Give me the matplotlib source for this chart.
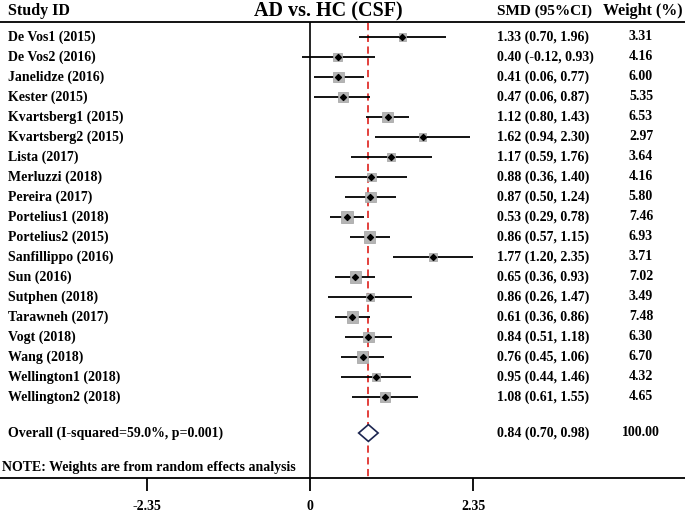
import matplotlib
matplotlib.use("Agg")
import matplotlib.pyplot as plt
from matplotlib.patches import Polygon
import matplotlib.transforms as mtransforms

plt.rcParams['font.family'] = ['Liberation Serif', 'DejaVu Serif']
plt.rcParams['font.weight'] = 'bold'

studies = ["De Vos1 (2015)", "De Vos2 (2016)", "Janelidze (2016)", "Kester (2015)",
           "Kvartsberg1 (2015)", "Kvartsberg2 (2015)", "Lista (2017)", "Merluzzi (2018)",
           "Pereira (2017)", "Portelius1 (2018)", "Portelius2 (2015)", "Sanfillippo (2016)",
           "Sun (2016)", "Sutphen (2018)", "Tarawneh (2017)", "Vogt (2018)", "Wang (2018)",
           "Wellington1 (2018)", "Wellington2 (2018)"]
smd = [1.33, 0.40, 0.41, 0.47, 1.12, 1.62, 1.17, 0.88, 0.87, 0.53, 0.86, 1.77, 0.65, 0.86,
       0.61, 0.84, 0.76, 0.95, 1.08]
ci_low = [0.70, -0.12, 0.06, 0.06, 0.80, 0.94, 0.59, 0.36, 0.50, 0.29, 0.57, 1.20, 0.36, 0.26,
          0.36, 0.51, 0.45, 0.44, 0.61]
ci_high = [1.96, 0.93, 0.77, 0.87, 1.43, 2.30, 1.76, 1.40, 1.24, 0.78, 1.15, 2.35, 0.93, 1.47,
           0.86, 1.18, 1.06, 1.46, 1.55]
weights = [3.31, 4.16, 6.00, 5.35, 6.53, 2.97, 3.64, 4.16, 5.80, 7.46, 6.93, 3.71, 7.02, 3.49,
           7.48, 6.30, 6.70, 4.32, 4.65]
overall_label = "Overall (I-squared=59.0%, p=0.001)"
overall = (0.84, 0.70, 0.98, 100.00)
note = "NOTE: Weights are from random effects analysis"
xticks = [-2.35, 0, 2.35]
xtick_labels = ["-2.35", "0", "2.35"]

W, H = 685, 512
fig = plt.figure(figsize=(W / 100, H / 100), dpi=100)
ax = fig.add_axes([0, (H - 478) / H, 1, (478 - 22) / H])

px_per_unit = 69.5
zero_px = 310
ax.set_xlim(-zero_px / px_per_unit, (W - zero_px) / px_per_unit)
ax.set_ylim(22.05, -0.75)

n = len(studies)
rows = list(range(n))
y_overall = 19.8
y_note = 21.5

for sp in ['left', 'right']:
    ax.spines[sp].set_visible(False)
ax.spines['top'].set_linewidth(1.3)
ax.spines['bottom'].set_linewidth(1.3)
ax.set_yticks([])
ax.set_xticks(xticks)
ax.set_xticklabels(xtick_labels, fontsize=10, fontweight='bold')
ax.tick_params(axis='x', direction='out', length=9, width=1.3, pad=7)

# vertical zero line and red overall line
ax.plot([0, 0], [-0.7, 22.05], color='black', lw=1.2, zorder=1)
ax.plot([overall[0], overall[0]], [-0.7, 22.05], color='#e0322d', lw=1.3,
        ls=(0, (4, 2.5)), zorder=1)

# CIs, squares, points
ax.hlines(rows, ci_low, ci_high, color='black', lw=1.3, zorder=2)
ax.scatter(smd, rows, s=[9.5 * w for w in weights], marker='s', color='#b4b4b4',
           edgecolor='#a0a0a0', linewidth=0.5, zorder=3)
ax.scatter(smd, rows, s=9, marker='D', color='black', zorder=4)

# overall diamond
est, lo, hi, _ = overall
dia = Polygon([(lo, y_overall), (est, y_overall - 0.42), (hi, y_overall), (est, y_overall + 0.42)],
              closed=True, facecolor='white', edgecolor='#1c2550', lw=1.2, zorder=4)
ax.add_patch(dia)

trans = mtransforms.blended_transform_factory(ax.transAxes, ax.transData)
fs = 10
x_lab = 8 / W
x_smd = 497 / W
x_w = 641 / W
for i in rows:
    ax.text(x_lab, i, studies[i], transform=trans, ha='left', va='center', fontsize=fs,
            fontweight='bold')
    ax.text(x_smd, i, f"{smd[i]:.2f} ({ci_low[i]:.2f}, {ci_high[i]:.2f})", transform=trans,
            ha='left', va='center', fontsize=fs, fontweight='bold')
    ax.text(x_w, i, f"{weights[i]:.2f}", transform=trans, ha='center', va='center', fontsize=fs,
            fontweight='bold')
ax.text(x_lab, y_overall, overall_label, transform=trans, ha='left', va='center', fontsize=fs,
        fontweight='bold')
ax.text(x_smd, y_overall, f"{est:.2f} ({lo:.2f}, {hi:.2f})", transform=trans, ha='left',
        va='center', fontsize=fs, fontweight='bold')
ax.text(x_w, y_overall, f"{overall[3]:.2f}", transform=trans, ha='center', va='center',
        fontsize=fs, fontweight='bold')
ax.text(2 / W, y_note, note, transform=trans, ha='left', va='center', fontsize=fs,
        fontweight='bold')

# header
fig.text(8 / W, 1 - 11 / H, "Study ID", ha='left', va='center', fontsize=11.5, fontweight='bold')
fig.text(328 / W, 1 - 11 / H, "AD vs. HC (CSF)", ha='center', va='center', fontsize=14.5,
         fontweight='bold')
fig.text(497 / W, 1 - 11 / H, "SMD (95%CI)", ha='left', va='center', fontsize=11,
         fontweight='bold')
fig.text(683 / W, 1 - 11 / H, "Weight (%)", ha='right', va='center', fontsize=11.5,
         fontweight='bold')

fig.savefig("out.png", dpi=100)
